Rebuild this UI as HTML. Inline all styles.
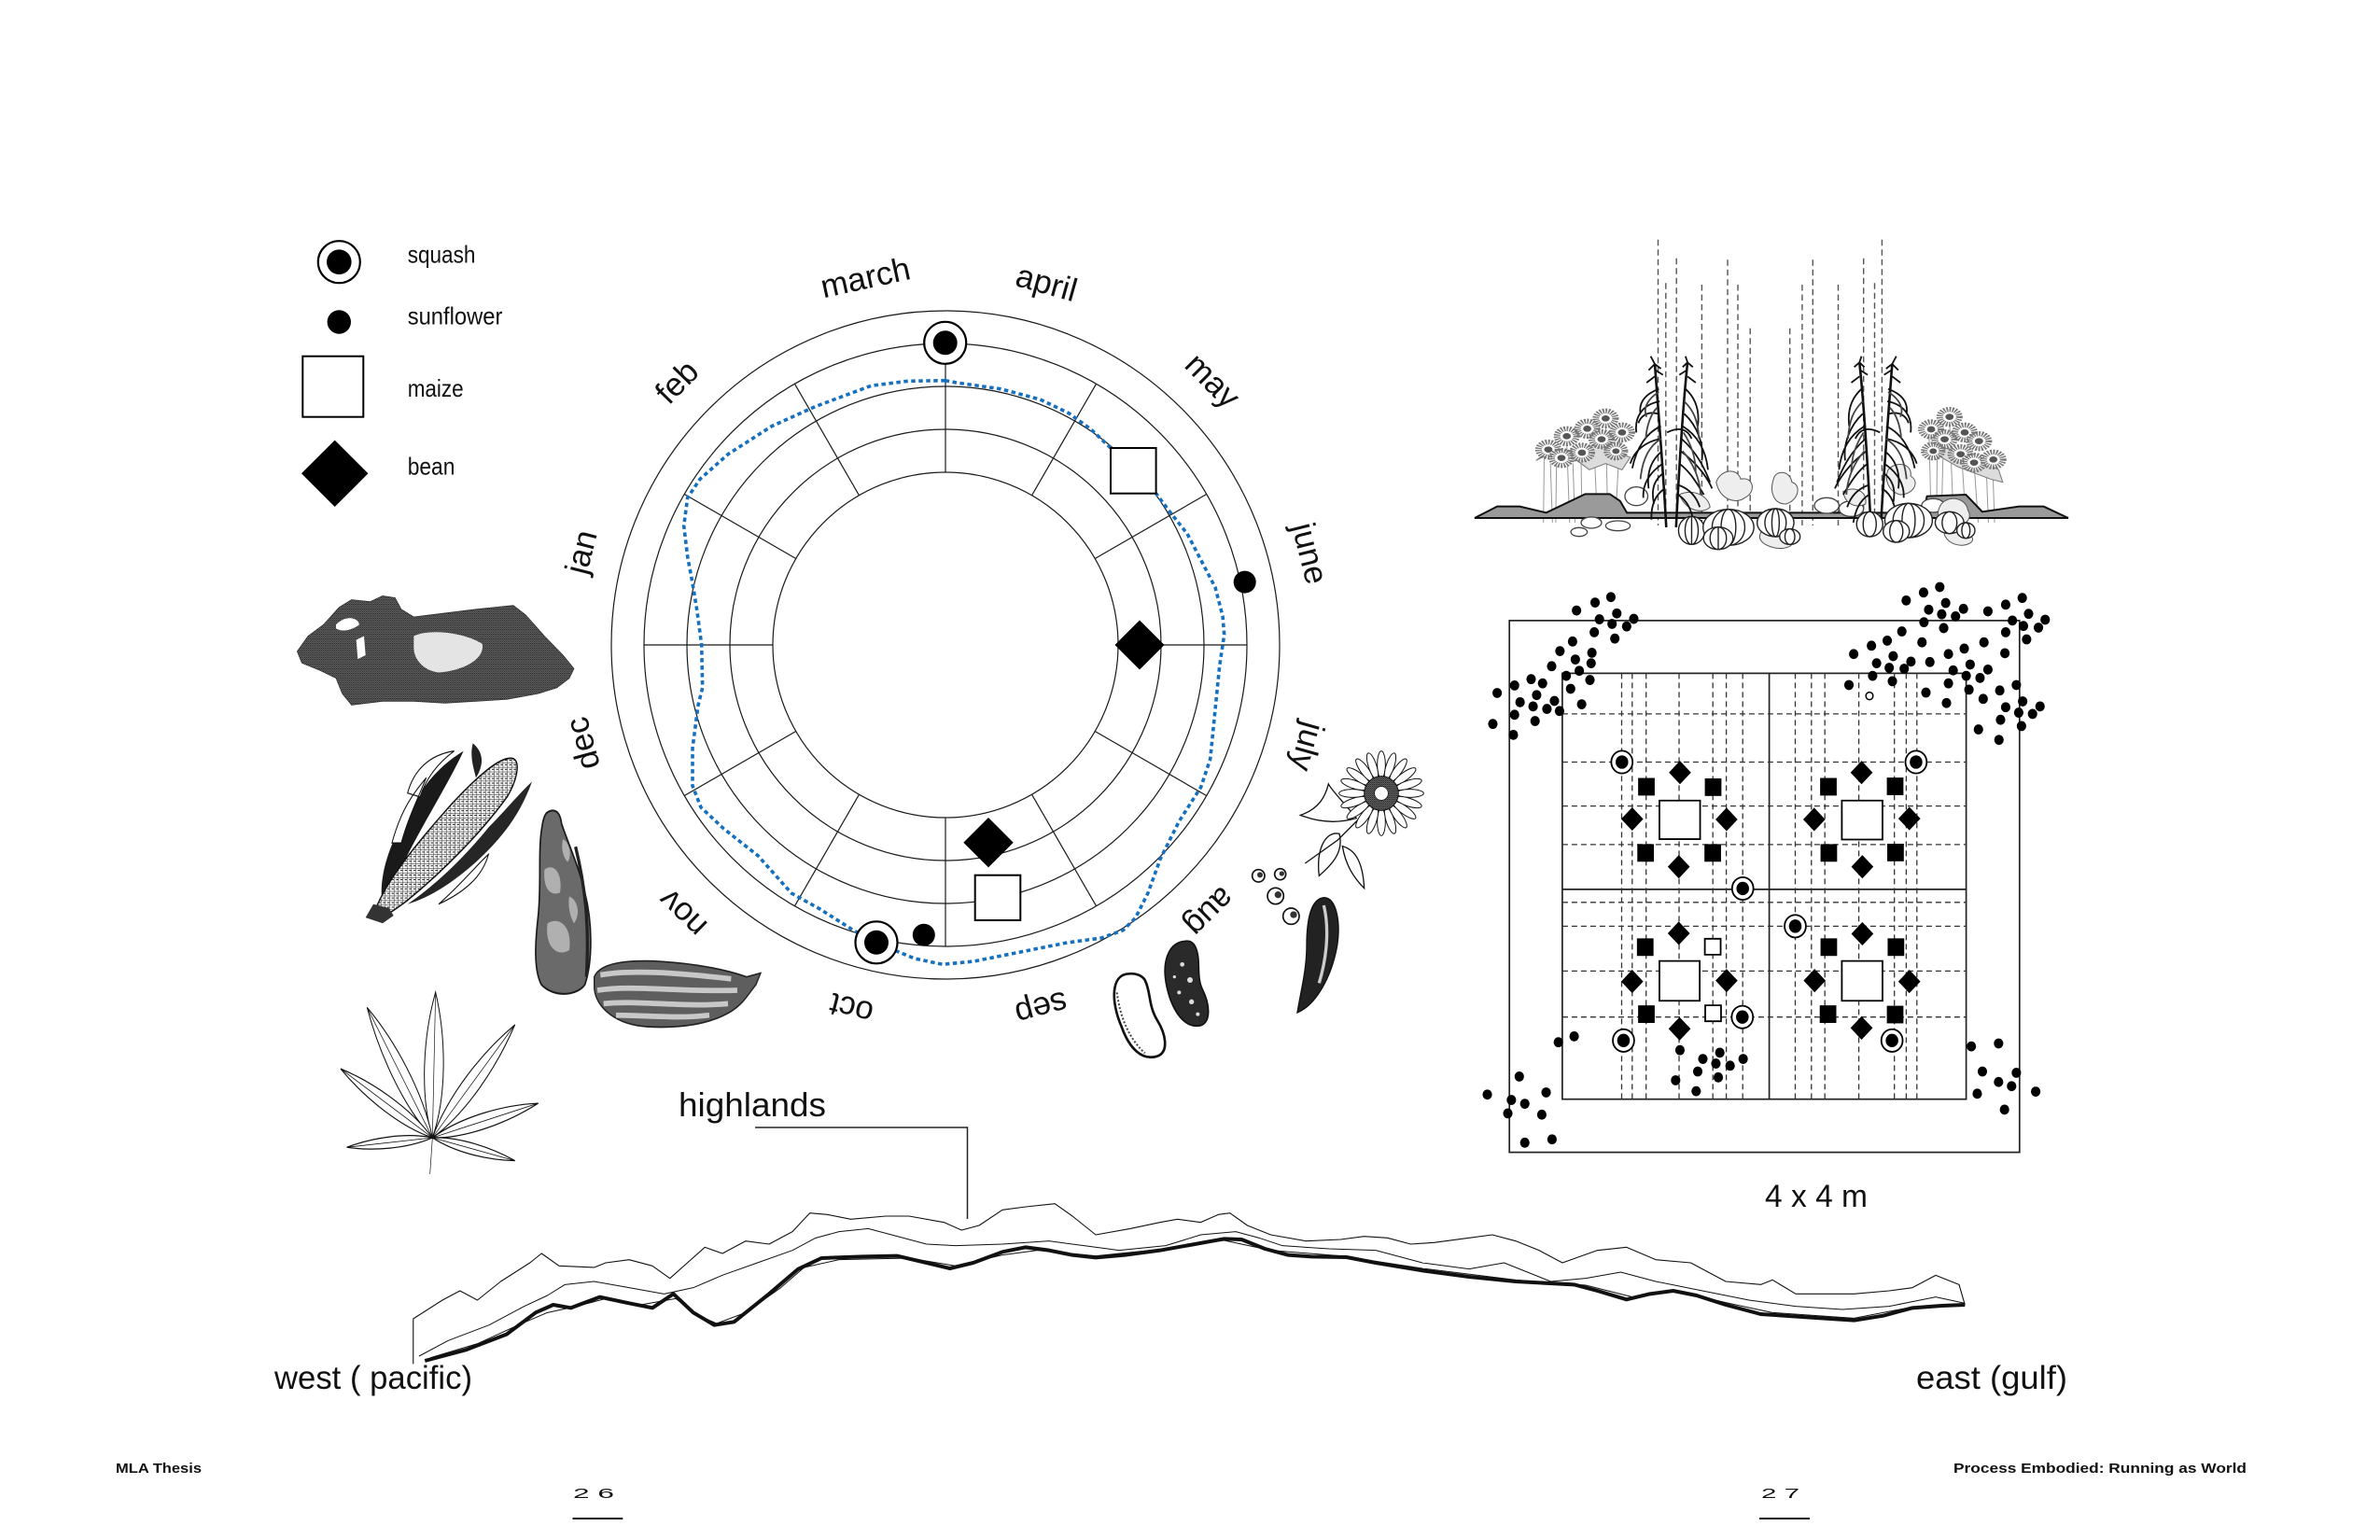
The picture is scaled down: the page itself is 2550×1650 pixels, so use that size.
<!DOCTYPE html>
<html><head><meta charset="utf-8">
<style>
html,body{margin:0;padding:0;background:#fff}
svg{display:block}
text{font-family:"Liberation Sans",Arial,sans-serif;fill:#111}
</style></head>
<body>
<svg xmlns="http://www.w3.org/2000/svg" width="2550" height="1650" viewBox="0 0 2550 1650">
<defs>
 <pattern id="kern" width="14" height="12" patternUnits="userSpaceOnUse"><rect width="14" height="12" fill="#f4f4f4"/><path d="M0,0H14M0,0V12M7,6H14" stroke="#222" stroke-width="2.5" fill="none"/></pattern>
 <pattern id="stip" width="6" height="6" patternUnits="userSpaceOnUse"><rect width="6" height="6" fill="#6e6e6e"/><circle cx="1.5" cy="1.5" r="1.6" fill="#111"/><circle cx="4.5" cy="4.3" r="1.3" fill="#1a1a1a"/><circle cx="4.5" cy="1" r="0.8" fill="#222"/></pattern>
</defs>
<rect width="2550" height="1650" fill="#fff"/>

<!-- ================= LEGEND ================= -->
<circle cx="363.3" cy="280.7" r="22.5" fill="#fff" stroke="#000" stroke-width="2.2"/>
<circle cx="363.3" cy="280.7" r="13.3" fill="#000"/>
<circle cx="363.3" cy="345" r="12.7" fill="#000"/>
<rect x="324.3" y="381.7" width="65" height="65" fill="#fff" stroke="#000" stroke-width="2"/>
<polygon points="358.7,471.6 394.4,507.3 358.7,543 323,507.3" fill="#000"/>
<text x="436.7" y="281.7" font-size="26" textLength="72.7" lengthAdjust="spacingAndGlyphs">squash</text>
<text x="436.7" y="347.3" font-size="26" textLength="101.7" lengthAdjust="spacingAndGlyphs">sunflower</text>
<text x="436.7" y="425" font-size="26" textLength="60" lengthAdjust="spacingAndGlyphs">maize</text>
<text x="436.7" y="508.3" font-size="26" textLength="50.7" lengthAdjust="spacingAndGlyphs">bean</text>

<!-- ================= CIRCLE ================= -->
<g fill="none" stroke="#1a1a1a" stroke-width="1.2">
 <circle cx="1013" cy="691" r="358"/>
 <circle cx="1013" cy="691" r="323"/>
 <circle cx="1013" cy="691" r="277"/>
 <circle cx="1013" cy="691" r="231"/>
 <circle cx="1013" cy="691" r="185"/>
 <line x1="1013" y1="506" x2="1013" y2="368"/>
 <line x1="1105.5" y1="530.8" x2="1174.5" y2="411.3"/>
 <line x1="1173.2" y1="598.5" x2="1292.7" y2="529.5"/>
 <line x1="1198" y1="691" x2="1336" y2="691"/>
 <line x1="1173.2" y1="783.5" x2="1292.7" y2="852.5"/>
 <line x1="1105.5" y1="851.2" x2="1174.5" y2="970.7"/>
 <line x1="1013" y1="876" x2="1013" y2="1014"/>
 <line x1="920.5" y1="851.2" x2="851.5" y2="970.7"/>
 <line x1="852.8" y1="783.5" x2="733.3" y2="852.5"/>
 <line x1="828" y1="691" x2="690" y2="691"/>
 <line x1="852.8" y1="598.5" x2="733.3" y2="529.5"/>
 <line x1="920.5" y1="530.8" x2="851.5" y2="411.3"/>
</g>
<path d="M1012.7,407.7 L1023.7,409.8 L1072,416.7 L1114.5,428 L1144.8,442.5 L1169,460 L1190,480 L1214,504 L1238.6,528.7 L1253.8,548.9 L1272,571.8 L1290,606.3 L1302,629.3 L1310,660 L1311.7,680 L1306.7,713.3 L1301.7,763.3 L1296.7,813.3 L1286.7,843.3 L1263.3,880 L1243.3,920 L1230,956.7 L1216.7,983.3 L1203.3,996.7 L1180,1005 L1143.3,1010 L1093.3,1020 L1043.3,1030 L1010,1033.3 L980,1027 L963,1020 L939,1010 L914.8,997 L878.5,974 L848,957 L812,916.7 L775.5,888 L751,865 L742,842 L742,801.7 L748,755.7 L752.7,736.7 L751.7,690.7 L746.7,653.3 L741.7,623.3 L736.7,596.7 L732.7,563.3 L736.7,533.3 L750,513.3 L780,486.7 L826.7,456.7 L873.3,435.7 L933.3,413.3 L973,408.3 Z" fill="none" stroke="#1570c0" stroke-width="3.6" stroke-dasharray="4.5 3.5" stroke-linejoin="round"/>

<!-- circle symbols -->
<circle cx="1012.7" cy="367.3" r="22.5" fill="#fff" stroke="#000" stroke-width="2.2"/>
<circle cx="1012.7" cy="367.3" r="13" fill="#000"/>
<rect x="1190" y="480" width="48.6" height="48.7" fill="#fff" stroke="#000" stroke-width="2"/>
<circle cx="1333.7" cy="623.6" r="12" fill="#000"/>
<polygon points="1221,664.5 1247.5,691 1221,717.5 1194.5,691" fill="#000"/>
<polygon points="1059,876 1085.7,902.7 1059,929.4 1032.3,902.7" fill="#000"/>
<rect x="1044.7" y="937.7" width="48.6" height="48.3" fill="#fff" stroke="#000" stroke-width="2"/>
<circle cx="939" cy="1009.8" r="22.5" fill="#fff" stroke="#000" stroke-width="2.2"/>
<circle cx="939" cy="1009.8" r="13" fill="#000"/>
<circle cx="989.8" cy="1001.7" r="12" fill="#000"/>

<!-- month labels -->
<g font-size="35" text-anchor="middle">
 <text x="1013" y="300" transform="rotate(-12.3 1013 691)">march</text>
 <text x="1013" y="300" transform="rotate(15.6 1013 691)">april</text>
 <text x="1013" y="300" transform="rotate(45.3 1013 691)">may</text>
 <text x="1013" y="300" transform="rotate(75.9 1013 691)">june</text>
 <text x="1013" y="300" transform="rotate(105.7 1013 691)">july</text>
 <text x="1013" y="300" transform="rotate(135.3 1013 691)">aug</text>
 <text x="1013" y="300" transform="rotate(165.2 1013 691)">sep</text>
 <text x="1013" y="300" transform="rotate(194.5 1013 691)">oct</text>
 <text x="1013" y="300" transform="rotate(224.4 1013 691)">nov</text>
 <text x="1013" y="300" transform="rotate(254.8 1013 691)">dec</text>
 <text x="1013" y="300" transform="rotate(284.3 1013 691)">jan</text>
 <text x="1013" y="300" transform="rotate(314.4 1013 691)">feb</text>
</g>

<!-- ================= LEFT ILLUSTRATIONS (zoom8 coords) ================= -->
<g transform="translate(310,620) scale(0.33333,0.41026)">
 <path d="M25,190 L60,150 L110,120 L160,75 L200,55 L260,60 L300,45 L340,50 L360,80 L400,100 L500,90 L600,80 L720,70 L760,95 L820,150 L880,200 L915,235 L900,260 L860,285 L800,300 L700,315 L600,320 L500,325 L400,320 L300,320 L200,330 L170,300 L150,260 L100,240 L40,220 Z" fill="url(#stip)" stroke="#333" stroke-width="2"/>
 <path d="M400,150 C450,130 560,140 620,170 C630,210 560,240 480,245 C430,240 400,210 400,180 Z" fill="#e4e4e4"/>
 <path d="M150,120 C180,95 220,100 225,120 C200,135 170,140 150,130 Z" fill="#fff"/>
 <path d="M215,160 L240,150 L245,200 L220,210 Z" fill="#fff"/>
 <path d="M300,860 C280,760 340,660 420,560 C470,500 520,470 560,450 C520,520 460,600 400,690 C360,750 330,810 300,860 Z" fill="#1a1a1a"/>
 <path d="M380,560 C400,500 450,460 530,450 C480,480 440,520 420,570 Z M330,690 C360,600 400,560 440,520 C410,580 380,630 360,690 Z" fill="#fff" stroke="#111" stroke-width="3"/>
 <path d="M270,880 C300,800 400,700 520,590 C600,520 680,460 720,470 C745,480 730,530 700,570 C620,660 500,760 380,840 C330,870 290,895 270,880 Z" fill="url(#kern)" stroke="#111" stroke-width="4"/>
 <path d="M380,850 C470,800 560,730 640,650 C700,600 740,560 780,530 C740,620 680,680 600,740 C530,790 460,830 380,850 Z" fill="#262626"/>
 <path d="M480,850 C550,800 600,750 640,720 C620,780 560,820 480,850 Z" fill="#fff" stroke="#111" stroke-width="3"/>
 <path d="M590,430 C620,450 630,480 600,520 C590,490 580,460 590,430 Z" fill="#222"/>
 <path d="M245,885 L270,850 L320,860 L335,880 L300,900 Z" fill="#333"/>
 <path d="M830,610 C850,600 870,605 875,640 C900,700 930,750 950,820 C975,900 975,1000 950,1060 C925,1090 850,1095 810,1060 C785,1020 790,950 800,880 C810,800 800,720 810,660 C815,630 820,615 830,610 Z" fill="#6a6a6a" stroke="#1a1a1a" stroke-width="5"/>
 <path d="M820,760 C850,740 880,770 870,820 C840,830 815,810 820,760 Z M830,900 C870,880 910,910 900,970 C860,990 820,960 830,900 Z M880,680 C900,690 910,720 895,740 C880,730 872,700 880,680 Z M900,830 C930,840 935,880 915,900 C900,880 895,850 900,830 Z" fill="#b0b0b0"/>
 <path d="M920,700 C950,800 965,900 955,1040" fill="none" stroke="#222" stroke-width="10"/>
 <path d="M980,1040 C1000,1000 1100,995 1200,1000 C1300,1005 1400,1020 1470,1040 L1515,1030 L1500,1060 C1480,1080 1460,1110 1420,1130 C1350,1165 1250,1175 1150,1170 C1050,1165 985,1120 980,1070 Z" fill="#5e5e5e" stroke="#222" stroke-width="4"/>
 <path d="M1000,1035 C1100,1020 1250,1030 1420,1045 M990,1075 C1100,1060 1250,1080 1440,1075 M1010,1110 C1120,1100 1250,1120 1410,1110 M1050,1140 C1150,1140 1250,1150 1350,1140" fill="none" stroke="#c8c8c8" stroke-width="14"/>
 <g fill="#fff" stroke="#111" stroke-width="3">
  <path d="M460,1460 C508,1347 503,1195 470,1080 C431,1193 418,1345 460,1460 Z"/>
  <path d="M460,1460 C429,1338 339,1206 250,1120 C288,1238 365,1378 460,1460 Z"/>
  <path d="M460,1460 C568,1397 668,1274 725,1165 C623,1234 511,1346 460,1460 Z"/>
  <path d="M460,1460 C387,1380 266,1314 165,1280 C241,1355 356,1432 460,1460 Z"/>
  <path d="M460,1460 C570,1462 704,1420 800,1370 C692,1374 554,1404 460,1460 Z"/>
  <path d="M460,1460 C375,1446 266,1460 185,1485 C269,1495 380,1489 460,1460 Z"/>
  <path d="M460,1460 C535,1500 642,1519 725,1520 C649,1485 544,1457 460,1460 Z"/>
  <path d="M460,1460 L452,1555 M460,1460 L470,1080 M460,1460 L250,1120 M460,1460 L725,1165 M460,1460 L165,1280 M460,1460 L800,1370 M460,1460 L185,1485 M460,1460 L725,1520" fill="none" stroke-width="2"/>
 </g>
</g>

<!-- ================= RIGHT-OF-CIRCLE ILLUSTRATIONS (zoom5 coords) ================= -->
<g transform="translate(1010,680) scale(0.33333)">
 <g fill="#fff" stroke="#111" stroke-width="4">
  <path d="M1330,590 C1290,540 1250,500 1240,480 C1230,520 1210,560 1150,580 C1200,600 1260,610 1330,590 Z"/>
  <path d="M1275,640 C1230,630 1200,690 1210,775 C1250,740 1290,700 1275,640 Z"/>
  <path d="M1285,680 C1320,690 1350,720 1355,815 C1320,780 1295,740 1285,680 Z"/>
  <path d="M1345,585 L1270,660 L1165,735" fill="none"/>
 </g>
 <g transform="translate(1410,510)" fill="#fff" stroke="#111" stroke-width="3">
  <ellipse cx="0" cy="-92" rx="13" ry="44" transform="rotate(0)"/><ellipse cx="0" cy="-92" rx="13" ry="44" transform="rotate(18)"/><ellipse cx="0" cy="-92" rx="13" ry="44" transform="rotate(36)"/><ellipse cx="0" cy="-92" rx="13" ry="44" transform="rotate(54)"/><ellipse cx="0" cy="-92" rx="13" ry="44" transform="rotate(72)"/><ellipse cx="0" cy="-92" rx="13" ry="44" transform="rotate(90)"/><ellipse cx="0" cy="-92" rx="13" ry="44" transform="rotate(108)"/><ellipse cx="0" cy="-92" rx="13" ry="44" transform="rotate(126)"/><ellipse cx="0" cy="-92" rx="13" ry="44" transform="rotate(144)"/><ellipse cx="0" cy="-92" rx="13" ry="44" transform="rotate(162)"/><ellipse cx="0" cy="-92" rx="13" ry="44" transform="rotate(180)"/><ellipse cx="0" cy="-92" rx="13" ry="44" transform="rotate(198)"/><ellipse cx="0" cy="-92" rx="13" ry="44" transform="rotate(216)"/><ellipse cx="0" cy="-92" rx="13" ry="44" transform="rotate(234)"/><ellipse cx="0" cy="-92" rx="13" ry="44" transform="rotate(252)"/><ellipse cx="0" cy="-92" rx="13" ry="44" transform="rotate(270)"/><ellipse cx="0" cy="-92" rx="13" ry="44" transform="rotate(288)"/><ellipse cx="0" cy="-92" rx="13" ry="44" transform="rotate(306)"/><ellipse cx="0" cy="-92" rx="13" ry="44" transform="rotate(324)"/><ellipse cx="0" cy="-92" rx="13" ry="44" transform="rotate(342)"/>
  <circle r="55" fill="url(#stip)"/>
  <circle r="22" fill="#fff" stroke-width="2"/>
 </g>
 <g fill="#fff" stroke="#111" stroke-width="5">
  <circle cx="1015" cy="775" r="20"/><circle cx="1085" cy="770" r="18"/><circle cx="1070" cy="840" r="26"/><circle cx="1120" cy="905" r="26"/>
 </g>
 <g fill="#333"><circle cx="1020" cy="772" r="9"/><circle cx="1090" cy="768" r="8"/><circle cx="1078" cy="836" r="11"/><circle cx="1128" cy="900" r="11"/></g>
 <path d="M600,1090 C540,1090 540,1180 575,1260 C600,1330 640,1370 690,1355 C730,1340 715,1280 690,1240 C660,1190 670,1150 650,1110 C640,1095 620,1088 600,1090 Z" fill="#fff" stroke="#111" stroke-width="8"/>
 <path d="M560,1150 C570,1230 600,1300 650,1345" fill="none" stroke="#444" stroke-width="6" stroke-dasharray="6 6"/>
 <path d="M780,985 C720,990 705,1060 720,1130 C735,1200 770,1260 820,1258 C865,1255 860,1190 835,1140 C815,1100 830,1050 815,1010 C808,990 795,983 780,985 Z" fill="#2a2a2a" stroke="#111" stroke-width="5"/>
 <g fill="#ddd"><circle cx="770" cy="1060" r="7"/><circle cx="795" cy="1110" r="9"/><circle cx="760" cy="1150" r="6"/><circle cx="800" cy="1180" r="8"/><circle cx="820" cy="1220" r="6"/><circle cx="745" cy="1100" r="5"/></g>
 <path d="M1225,845 C1180,850 1170,930 1170,1000 C1170,1080 1150,1150 1140,1215 C1200,1190 1250,1100 1268,1000 C1280,920 1265,845 1225,845 Z" fill="#222" stroke="#111" stroke-width="4"/>
 <path d="M1225,870 C1240,930 1240,1020 1210,1120" fill="none" stroke="#ccc" stroke-width="10"/>
</g>

<!-- ================= TOP-RIGHT PLANTS ================= -->
<g stroke="#555" stroke-width="1.4" stroke-dasharray="6.5 4">
 <line x1="1776.5" y1="256.7" x2="1776.5" y2="563"/>
 <line x1="1784.8" y1="303.3" x2="1784.8" y2="563"/>
 <line x1="1796.2" y1="276.7" x2="1796.2" y2="563"/>
 <line x1="1823.4" y1="305" x2="1823.4" y2="563"/>
 <line x1="1851" y1="278.3" x2="1851" y2="563"/>
 <line x1="1862" y1="305" x2="1862" y2="563"/>
 <line x1="1875.2" y1="351.7" x2="1875.2" y2="563"/>
 <line x1="1917.7" y1="351.7" x2="1917.7" y2="563"/>
 <line x1="1930.9" y1="305" x2="1930.9" y2="563"/>
 <line x1="1942.3" y1="278.3" x2="1942.3" y2="563"/>
 <line x1="1969.5" y1="305" x2="1969.5" y2="563"/>
 <line x1="1996.7" y1="276.7" x2="1996.7" y2="563"/>
 <line x1="2008.5" y1="303.3" x2="2008.5" y2="563"/>
 <line x1="2016.4" y1="256.7" x2="2016.4" y2="563"/>
</g>
<g transform="translate(1580,230) scale(0.4386,0.33333)">
 <g stroke="#999" stroke-width="1" fill="none">
  <path d="M170,760 L168,990 M200,780 L198,990 M225,730 L232,990 M260,780 L262,990 M290,700 L300,990 M320,670 L325,970 M355,710 L345,950 M185,800 L190,990 M240,800 L245,990" vector-effect="non-scaling-stroke"/>
  <path d="M1110,700 L1115,980 M1145,730 L1140,990 M1160,660 L1170,990 M1190,780 L1200,990 M1220,800 L1230,990 M1265,790 L1270,990 M1130,760 L1128,990 M1250,820 L1255,990" vector-effect="non-scaling-stroke"/>
 </g>
 <path d="M0,975 L55,938 L110,938 L175,958 L270,898 L330,898 L355,920 L372,958 L1095,958 L1105,905 L1200,900 L1240,955 L1330,938 L1390,938 L1450,975 Z" fill="#9a9a9a" stroke="#111" stroke-width="2" vector-effect="non-scaling-stroke"/>
 <path d="M150,790 L180,770 L210,800 L250,790 L280,820 L320,800 L360,820 L380,780 L340,760 L300,740 L260,750 L220,760 L180,760 Z" fill="#dcdcdc" stroke="#777" stroke-width="1" vector-effect="non-scaling-stroke"/>
 <path d="M1095,760 L1140,780 L1180,810 L1220,830 L1260,850 L1290,860 L1280,820 L1250,800 L1200,770 L1150,750 Z" fill="#dcdcdc" stroke="#777" stroke-width="1" vector-effect="non-scaling-stroke"/>
 <g fill="#fff" stroke="#777" stroke-width="16" stroke-dasharray="4 3">
  <circle cx="320" cy="655" r="24"/><circle cx="225" cy="712" r="24"/><circle cx="275" cy="688" r="24"/><circle cx="310" cy="722" r="24"/><circle cx="360" cy="700" r="24"/><circle cx="180" cy="755" r="24"/><circle cx="262" cy="765" r="24"/><circle cx="212" cy="782" r="24"/><circle cx="345" cy="760" r="22"/>
  <circle cx="1160" cy="650" r="24"/><circle cx="1115" cy="690" r="24"/><circle cx="1148" cy="722" r="24"/><circle cx="1197" cy="700" r="24"/><circle cx="1232" cy="728" r="24"/><circle cx="1187" cy="770" r="24"/><circle cx="1220" cy="797" r="24"/><circle cx="1267" cy="787" r="24"/><circle cx="1120" cy="760" r="22"/>
 </g>
 <g fill="#555">
  <circle cx="320" cy="655" r="10"/><circle cx="225" cy="712" r="10"/><circle cx="275" cy="688" r="10"/><circle cx="310" cy="722" r="10"/><circle cx="360" cy="700" r="10"/><circle cx="180" cy="755" r="10"/><circle cx="262" cy="765" r="10"/><circle cx="212" cy="782" r="10"/><circle cx="345" cy="760" r="9"/>
  <circle cx="1160" cy="650" r="10"/><circle cx="1115" cy="690" r="10"/><circle cx="1148" cy="722" r="10"/><circle cx="1197" cy="700" r="10"/><circle cx="1232" cy="728" r="10"/><circle cx="1187" cy="770" r="10"/><circle cx="1220" cy="797" r="10"/><circle cx="1267" cy="787" r="10"/><circle cx="1120" cy="760" r="9"/>
 </g>
 <g fill="#fff" stroke="#444" stroke-width="1.3">
  <ellipse cx="285" cy="990" rx="25" ry="18" vector-effect="non-scaling-stroke"/>
  <ellipse cx="255" cy="1020" rx="20" ry="14" vector-effect="non-scaling-stroke"/>
  <ellipse cx="350" cy="1000" rx="30" ry="16" vector-effect="non-scaling-stroke"/>
  <ellipse cx="395" cy="905" rx="28" ry="30" vector-effect="non-scaling-stroke"/>
  <ellipse cx="860" cy="935" rx="30" ry="25" vector-effect="non-scaling-stroke"/>
  <ellipse cx="920" cy="945" rx="30" ry="25" vector-effect="non-scaling-stroke"/>
  <ellipse cx="1120" cy="935" rx="28" ry="22" vector-effect="non-scaling-stroke"/>
 </g>
 <g fill="#eee" stroke="#555" stroke-width="1">
  <path d="M590,860 C600,820 640,810 650,850 C680,840 690,890 660,910 C640,930 600,920 590,860 Z" vector-effect="non-scaling-stroke"/>
  <path d="M730,850 C735,820 770,820 775,860 C800,870 790,920 760,930 C730,930 720,890 730,850 Z" vector-effect="non-scaling-stroke"/>
  <path d="M700,1020 C720,1000 760,1010 770,1040 C790,1060 760,1080 730,1070 C700,1060 690,1040 700,1020 Z" vector-effect="non-scaling-stroke"/>
  <path d="M1010,820 C1030,790 1070,800 1065,840 C1090,860 1070,900 1040,900 C1010,890 1000,850 1010,820 Z" vector-effect="non-scaling-stroke"/>
  <path d="M1140,930 C1160,900 1200,910 1205,950 C1220,980 1190,1010 1160,1000 C1130,990 1125,960 1140,930 Z" vector-effect="non-scaling-stroke"/>
  <path d="M1150,1000 C1170,990 1200,1000 1210,1030 C1230,1050 1200,1070 1175,1060 C1150,1050 1140,1020 1150,1000 Z" vector-effect="non-scaling-stroke"/>
  <path d="M500,900 C530,880 570,900 575,940 C560,960 520,960 500,900 Z" vector-effect="non-scaling-stroke"/>
  <path d="M900,890 C930,870 960,890 955,930 C930,945 905,930 900,890 Z" vector-effect="non-scaling-stroke"/>
 </g>
 <!-- corn (left) -->
 <g fill="none" stroke="#111" stroke-width="1.8">
  <path d="M468,1005 C462,850 450,650 440,480" stroke-width="2.6" vector-effect="non-scaling-stroke"/>
  <path d="M492,1005 C500,800 510,600 520,475" stroke-width="2.6" vector-effect="non-scaling-stroke"/>
  <path d="M450,560 C420,575 400,600 405,640 M452,600 C410,610 390,650 395,700 M455,680 C420,700 395,750 385,815 M458,760 C430,790 420,830 425,880 M462,830 C440,850 430,880 438,930 M515,560 C540,590 550,630 545,680 M512,640 C545,680 560,740 555,790 M505,720 C540,760 560,810 575,860 M500,800 C530,830 545,870 560,900 M470,700 C500,680 520,690 530,720 M448,640 C420,630 405,650 400,670 M500,870 C520,880 540,900 550,940 M455,720 C415,730 390,760 380,800 M460,800 C425,830 410,870 412,910 M508,680 C545,710 565,760 570,820 M503,760 C545,800 570,850 580,880 M465,880 C440,900 430,940 432,980 M497,900 C520,920 530,950 535,990" vector-effect="non-scaling-stroke"/>
  <path d="M450,570 C425,590 410,620 420,650 M456,720 C430,740 410,780 405,850 M512,600 C535,630 545,660 548,720 M508,760 C535,800 550,850 552,900 M446,620 C430,640 420,680 418,720 M510,700 C530,740 540,780 540,830" stroke="#444" vector-effect="non-scaling-stroke"/>
  <path d="M440,480 L425,500 M440,480 L455,495 M440,480 L430,455 M520,475 L508,490 M520,475 L533,490 M520,475 L515,455 M440,520 L420,540 M520,520 L540,540 M442,500 L460,515 M518,500 L500,515" vector-effect="non-scaling-stroke"/>
 </g>
 <g transform="translate(1460,0) scale(-1,1)">
  <g fill="none" stroke="#111" stroke-width="1.8">
   <path d="M468,1005 C462,850 450,650 440,480" stroke-width="2.6" vector-effect="non-scaling-stroke"/>
   <path d="M492,1005 C500,800 510,600 520,475" stroke-width="2.6" vector-effect="non-scaling-stroke"/>
   <path d="M450,560 C420,575 400,600 405,640 M452,600 C410,610 390,650 395,700 M455,680 C420,700 395,750 385,815 M458,760 C430,790 420,830 425,880 M462,830 C440,850 430,880 438,930 M515,560 C540,590 550,630 545,680 M512,640 C545,680 560,740 555,790 M505,720 C540,760 560,810 575,860 M500,800 C530,830 545,870 560,900 M470,700 C500,680 520,690 530,720 M448,640 C420,630 405,650 400,670 M500,870 C520,880 540,900 550,940 M455,720 C415,730 390,760 380,800 M460,800 C425,830 410,870 412,910 M508,680 C545,710 565,760 570,820 M503,760 C545,800 570,850 580,880 M465,880 C440,900 430,940 432,980 M497,900 C520,920 530,950 535,990" vector-effect="non-scaling-stroke"/>
   <path d="M450,570 C425,590 410,620 420,650 M456,720 C430,740 410,780 405,850 M512,600 C535,630 545,660 548,720 M508,760 C535,800 550,850 552,900 M446,620 C430,640 420,680 418,720 M510,700 C530,740 540,780 540,830" stroke="#444" vector-effect="non-scaling-stroke"/>
   <path d="M440,480 L425,500 M440,480 L455,495 M440,480 L430,455 M520,475 L508,490 M520,475 L533,490 M520,475 L515,455 M440,520 L420,540 M520,520 L540,540 M442,500 L460,515 M518,500 L500,515" vector-effect="non-scaling-stroke"/>
  </g>
 </g>
 <!-- pumpkins -->
 <g fill="#fff" stroke="#222" stroke-width="1.4">
  <g><ellipse cx="530" cy="1015" rx="32" ry="45" vector-effect="non-scaling-stroke"/><ellipse cx="530" cy="1015" rx="16" ry="45" vector-effect="non-scaling-stroke"/><line x1="530" y1="970" x2="530" y2="1060" vector-effect="non-scaling-stroke"/></g>
  <g><ellipse cx="620" cy="1005" rx="62" ry="58" vector-effect="non-scaling-stroke"/><ellipse cx="620" cy="1005" rx="40" ry="58" vector-effect="non-scaling-stroke"/><ellipse cx="620" cy="1005" rx="18" ry="58" vector-effect="non-scaling-stroke"/></g>
  <g><ellipse cx="595" cy="1040" rx="36" ry="36" vector-effect="non-scaling-stroke"/><ellipse cx="595" cy="1040" rx="20" ry="36" vector-effect="non-scaling-stroke"/><line x1="595" y1="1004" x2="595" y2="1076" vector-effect="non-scaling-stroke"/></g>
  <g><ellipse cx="735" cy="990" rx="45" ry="45" vector-effect="non-scaling-stroke"/><ellipse cx="735" cy="990" rx="26" ry="45" vector-effect="non-scaling-stroke"/><ellipse cx="735" cy="990" rx="9" ry="45" vector-effect="non-scaling-stroke"/></g>
  <g><ellipse cx="770" cy="1035" rx="25" ry="25" vector-effect="non-scaling-stroke"/><ellipse cx="770" cy="1035" rx="12" ry="25" vector-effect="non-scaling-stroke"/></g>
  <g><ellipse cx="965" cy="995" rx="32" ry="40" vector-effect="non-scaling-stroke"/><ellipse cx="965" cy="995" rx="16" ry="40" vector-effect="non-scaling-stroke"/></g>
  <g><ellipse cx="1060" cy="983" rx="58" ry="55" vector-effect="non-scaling-stroke"/><ellipse cx="1060" cy="983" rx="38" ry="55" vector-effect="non-scaling-stroke"/><ellipse cx="1060" cy="983" rx="16" ry="55" vector-effect="non-scaling-stroke"/></g>
  <g><ellipse cx="1030" cy="1018" rx="32" ry="35" vector-effect="non-scaling-stroke"/><ellipse cx="1030" cy="1018" rx="16" ry="35" vector-effect="non-scaling-stroke"/></g>
  <g><ellipse cx="1160" cy="990" rx="35" ry="35" vector-effect="non-scaling-stroke"/><ellipse cx="1160" cy="990" rx="18" ry="35" vector-effect="non-scaling-stroke"/></g>
  <g><ellipse cx="1200" cy="1015" rx="22" ry="25" vector-effect="non-scaling-stroke"/><ellipse cx="1200" cy="1015" rx="10" ry="25" vector-effect="non-scaling-stroke"/></g>
 </g>
</g>

<!-- ================= GRID 4x4 ================= -->
<g fill="none" stroke="#222" stroke-width="1.7">
 <rect x="1617.2" y="664.9" width="546.6" height="569.7"/>
 <rect x="1673.9" y="721.4" width="432.7" height="456.3"/>
 <line x1="1895.6" y1="721.4" x2="1895.6" y2="1177.7"/>
 <line x1="1673.9" y1="952.9" x2="2106.6" y2="952.9"/>
</g>
<g stroke="#333" stroke-width="1.3" stroke-dasharray="6 4">
 <line x1="1737.5" y1="721.4" x2="1737.5" y2="1177.7"/>
 <line x1="1748.8" y1="721.4" x2="1748.8" y2="1177.7"/>
 <line x1="1763.7" y1="721.4" x2="1763.7" y2="1177.7"/>
 <line x1="1799" y1="721.4" x2="1799" y2="1177.7"/>
 <line x1="1835.2" y1="721.4" x2="1835.2" y2="1177.7"/>
 <line x1="1849.6" y1="721.4" x2="1849.6" y2="1177.7"/>
 <line x1="1867.2" y1="721.4" x2="1867.2" y2="1177.7"/>
 <line x1="1923.5" y1="721.4" x2="1923.5" y2="1177.7"/>
 <line x1="1940.8" y1="721.4" x2="1940.8" y2="1177.7"/>
 <line x1="1955.2" y1="721.4" x2="1955.2" y2="1177.7"/>
 <line x1="1991.6" y1="721.4" x2="1991.6" y2="1177.7"/>
 <line x1="2029.7" y1="721.4" x2="2029.7" y2="1177.7"/>
 <line x1="2042.4" y1="721.4" x2="2042.4" y2="1177.7"/>
 <line x1="2053.8" y1="721.4" x2="2053.8" y2="1177.7"/>
 <line x1="1673.9" y1="764.9" x2="2106.6" y2="764.9"/>
 <line x1="1673.9" y1="816.5" x2="2106.6" y2="816.5"/>
 <line x1="1673.9" y1="863.6" x2="2106.6" y2="863.6"/>
 <line x1="1673.9" y1="904.9" x2="2106.6" y2="904.9"/>
 <line x1="1673.9" y1="966.8" x2="2106.6" y2="966.8"/>
 <line x1="1673.9" y1="992.4" x2="2106.6" y2="992.4"/>
 <line x1="1673.9" y1="1040.4" x2="2106.6" y2="1040.4"/>
 <line x1="1673.9" y1="1089.7" x2="2106.6" y2="1089.7"/>
</g>
<g transform="translate(1580,620) scale(0.42301,0.44863)">
 <g fill="#000">
  <circle cx="345" cy="44" r="12"/><circle cx="305" cy="57" r="12"/><circle cx="258" cy="76" r="12"/><circle cx="360" cy="83" r="12"/><circle cx="403" cy="96" r="12"/><circle cx="316" cy="97" r="12"/><circle cx="348" cy="108" r="12"/><circle cx="385" cy="114" r="12"/><circle cx="355" cy="143" r="12"/><circle cx="303" cy="128" r="12"/><circle cx="248" cy="150" r="12"/><circle cx="216" cy="173" r="12"/><circle cx="297" cy="177" r="12"/><circle cx="255" cy="193" r="12"/><circle cx="295" cy="202" r="12"/><circle cx="195" cy="209" r="12"/><circle cx="265" cy="220" r="12"/><circle cx="232" cy="232" r="12"/><circle cx="292" cy="242" r="12"/><circle cx="143" cy="240" r="12"/><circle cx="172" cy="250" r="12"/><circle cx="101" cy="255" r="12"/><circle cx="243" cy="263" r="12"/><circle cx="157" cy="278" r="12"/><circle cx="57" cy="273" r="12"/><circle cx="115" cy="295" r="12"/><circle cx="148" cy="305" r="12"/><circle cx="202" cy="292" r="12"/><circle cx="183" cy="311" r="12"/><circle cx="215" cy="316" r="12"/><circle cx="271" cy="300" r="12"/><circle cx="101" cy="325" r="12"/><circle cx="153" cy="340" r="12"/><circle cx="46" cy="347" r="12"/><circle cx="98" cy="373" r="12"/>
  <circle cx="1178" cy="20" r="12"/><circle cx="1137" cy="33" r="12"/><circle cx="1093" cy="52" r="12"/><circle cx="1193" cy="58" r="12"/><circle cx="1150" cy="74" r="12"/><circle cx="1238" cy="72" r="12"/><circle cx="1183" cy="85" r="12"/><circle cx="1218" cy="90" r="12"/><circle cx="1300" cy="78" r="12"/><circle cx="1345" cy="62" r="12"/><circle cx="1387" cy="46" r="12"/><circle cx="1403" cy="84" r="12"/><circle cx="1445" cy="98" r="12"/><circle cx="1428" cy="117" r="12"/><circle cx="1362" cy="100" r="12"/><circle cx="1390" cy="113" r="12"/><circle cx="1398" cy="145" r="12"/><circle cx="1138" cy="104" r="12"/><circle cx="1188" cy="118" r="12"/><circle cx="1082" cy="126" r="12"/><circle cx="1045" cy="148" r="12"/><circle cx="1133" cy="152" r="12"/><circle cx="1290" cy="152" r="12"/><circle cx="1345" cy="128" r="12"/><circle cx="1005" cy="160" r="12"/><circle cx="960" cy="180" r="12"/><circle cx="1060" cy="185" r="12"/><circle cx="1018" cy="202" r="12"/><circle cx="1105" cy="198" r="12"/><circle cx="1153" cy="199" r="12"/><circle cx="1200" cy="180" r="12"/><circle cx="1240" cy="167" r="12"/><circle cx="1343" cy="178" r="12"/><circle cx="1050" cy="213" r="12"/><circle cx="1088" cy="215" r="12"/><circle cx="1212" cy="219" r="12"/><circle cx="1255" cy="205" r="12"/><circle cx="1300" cy="217" r="12"/><circle cx="1245" cy="232" r="12"/><circle cx="1280" cy="237" r="12"/><circle cx="1372" cy="254" r="12"/><circle cx="1008" cy="232" r="12"/><circle cx="1058" cy="245" r="12"/><circle cx="948" cy="254" r="12"/><circle cx="1200" cy="250" r="12"/><circle cx="1252" cy="265" r="12"/><circle cx="1143" cy="272" r="12"/><circle cx="1330" cy="267" r="12"/><circle cx="1288" cy="287" r="12"/><circle cx="1388" cy="293" r="12"/><circle cx="1195" cy="297" r="12"/><circle cx="1345" cy="307" r="12"/><circle cx="1378" cy="320" r="12"/><circle cx="1413" cy="323" r="12"/><circle cx="1432" cy="305" r="12"/><circle cx="1332" cy="337" r="12"/><circle cx="1385" cy="352" r="12"/><circle cx="1276" cy="360" r="12"/><circle cx="1328" cy="385" r="12"/>
  <circle cx="212" cy="1107" r="12"/><circle cx="252" cy="1093" r="12"/><circle cx="113" cy="1189" r="12"/><circle cx="32" cy="1232" r="12"/><circle cx="181" cy="1227" r="12"/><circle cx="93" cy="1245" r="12"/><circle cx="127" cy="1254" r="12"/><circle cx="84" cy="1277" r="12"/><circle cx="170" cy="1280" r="12"/><circle cx="127" cy="1347" r="12"/><circle cx="196" cy="1339" r="12"/>
  <circle cx="520" cy="1126" r="12"/><circle cx="578" cy="1147" r="12"/><circle cx="621" cy="1132" r="12"/><circle cx="611" cy="1158" r="12"/><circle cx="647" cy="1163" r="12"/><circle cx="680" cy="1147" r="12"/><circle cx="565" cy="1177" r="12"/><circle cx="617" cy="1191" r="12"/><circle cx="509" cy="1198" r="12"/><circle cx="561" cy="1224" r="12"/>
  <circle cx="1258" cy="1117" r="12"/><circle cx="1327" cy="1110" r="12"/><circle cx="1286" cy="1177" r="12"/><circle cx="1372" cy="1180" r="12"/><circle cx="1327" cy="1202" r="12"/><circle cx="1360" cy="1212" r="12"/><circle cx="1421" cy="1225" r="12"/><circle cx="1273" cy="1230" r="12"/><circle cx="1342" cy="1268" r="12"/>
 </g>
 <circle cx="1000" cy="280" r="9" fill="#fff" stroke="#000" stroke-width="1.5" vector-effect="non-scaling-stroke"/>
 <g fill="#fff" stroke="#000" stroke-width="1.8">
  <rect x="468" y="530" width="103" height="92" vector-effect="non-scaling-stroke"/>
  <rect x="930" y="530" width="103" height="93" vector-effect="non-scaling-stroke"/>
  <rect x="468" y="913" width="102" height="95" vector-effect="non-scaling-stroke"/>
  <rect x="930" y="913" width="103" height="95" vector-effect="non-scaling-stroke"/>
  <rect x="583" y="860" width="40" height="38" vector-effect="non-scaling-stroke"/>
  <rect x="584" y="1019" width="40" height="38" vector-effect="non-scaling-stroke"/>
 </g>
 <g fill="#000">
  <rect x="414" y="476" width="42" height="42"/><rect x="583" y="477" width="42" height="42"/><rect x="412" y="634" width="42" height="42"/><rect x="582" y="634" width="42" height="42"/>
  <rect x="875" y="476" width="42" height="42"/><rect x="1044" y="475" width="42" height="42"/><rect x="876" y="634" width="42" height="42"/><rect x="1045" y="633" width="42" height="42"/>
  <rect x="411" y="859" width="42" height="42"/><rect x="414" y="1019" width="42" height="42"/>
  <rect x="876" y="859" width="42" height="42"/><rect x="1046" y="859" width="42" height="42"/><rect x="874" y="1019" width="42" height="42"/><rect x="1044" y="1020" width="42" height="42"/>
 </g>
 <g fill="#000">
  <polygon points="520,435 548,463 520,491 492,463"/><polygon points="399,546 427,574 399,602 371,574"/><polygon points="638,547 666,575 638,603 610,575"/><polygon points="517,660 545,688 517,716 489,688"/>
  <polygon points="980,435 1008,463 980,491 952,463"/><polygon points="860,547 888,575 860,603 832,575"/><polygon points="1101,545 1129,573 1101,601 1073,573"/><polygon points="982,660 1010,688 982,716 954,688"/>
  <polygon points="517,819 545,847 517,875 489,847"/><polygon points="399,934 427,962 399,990 371,962"/><polygon points="638,932 666,960 638,988 610,960"/><polygon points="519,1047 547,1075 519,1103 491,1075"/>
  <polygon points="982,820 1010,848 982,876 954,848"/><polygon points="861,932 889,960 861,988 833,960"/><polygon points="1101,934 1129,962 1101,990 1073,962"/><polygon points="980,1045 1008,1073 980,1101 952,1073"/>
 </g>
 <g fill="#fff" stroke="#000" stroke-width="1.8">
  <circle cx="373" cy="438" r="27" vector-effect="non-scaling-stroke"/><circle cx="679" cy="740" r="27" vector-effect="non-scaling-stroke"/><circle cx="1118" cy="438" r="27" vector-effect="non-scaling-stroke"/>
  <circle cx="678" cy="1047" r="27" vector-effect="non-scaling-stroke"/><circle cx="377" cy="1103" r="27" vector-effect="non-scaling-stroke"/><circle cx="812" cy="830" r="27" vector-effect="non-scaling-stroke"/><circle cx="1057" cy="1103" r="27" vector-effect="non-scaling-stroke"/>
 </g>
 <g fill="#000">
  <circle cx="373" cy="438" r="16"/><circle cx="679" cy="740" r="16"/><circle cx="1118" cy="438" r="16"/>
  <circle cx="678" cy="1047" r="16"/><circle cx="377" cy="1103" r="16"/><circle cx="812" cy="830" r="16"/><circle cx="1057" cy="1103" r="16"/>
 </g>
</g>
<text x="1891" y="1293" font-size="34" textLength="110" lengthAdjust="spacingAndGlyphs">4 x 4 m</text>

<!-- ================= PROFILE ================= -->
<g transform="translate(274,1153) scale(1.25,0.33333)" fill="none" stroke="#111" stroke-linejoin="round">
 <path d="M135,925 L135,780 L160,720 L175,690 L190,720 L210,660 L235,600 L245,570 L260,610 L290,615 L300,600 L320,590 L340,610 L355,650 L370,600 L385,550 L400,570 L420,530 L440,540 L460,500 L475,440 L490,445 L510,460 L540,450 L560,450 L590,470 L605,495 L620,480 L640,430 L660,420 L685,410 L700,450 L720,510 L750,490 L775,470 L790,460 L810,470 L825,445 L835,440 L850,480 L870,510 L900,530 L930,525 L950,515 L970,520 L990,540 L1010,535 L1040,520 L1060,510 L1080,530 L1100,560 L1120,600 L1150,560 L1175,550 L1200,590 L1230,600 L1260,660 L1290,670 L1300,655 L1320,700 L1340,700 L1370,700 L1400,690 L1420,680 L1440,640 L1460,670 L1465,735" stroke-width="1.1" vector-effect="non-scaling-stroke"/>
 <path d="M140,900 L165,850 L200,800 L230,740 L250,705 L265,670 L290,660 L320,680 L350,700 L375,680 L400,640 L430,600 L460,560 L480,520 L500,500 L525,490 L545,510 L575,540 L600,545 L640,540 L680,530 L710,545 L740,560 L780,545 L810,510 L840,500 L860,520 L880,545 L920,555 L960,560 L1000,600 L1040,620 L1070,600 L1090,630 L1110,660 L1140,650 L1170,630 L1200,660 L1240,690 L1280,720 L1320,740 L1360,750 L1400,740 L1440,710 L1465,730" stroke-width="1" vector-effect="non-scaling-stroke"/>
 <path d="M150,905 L190,860 L225,800 L250,760 L275,740 L300,715 L330,735 L360,715 L380,770 L395,795 L420,760 L450,680 L470,615 L500,590 L560,585 L600,610 L640,575 L670,560 L720,578 L780,555 L830,528 L870,560 L930,578 L1000,618 L1080,655 L1140,672 L1180,710 L1215,688 L1260,728 L1300,760 L1370,778 L1420,742 L1465,732" stroke-width="1" vector-effect="non-scaling-stroke"/>
 <path d="M145,915 L180,880 L215,830 L240,760 L255,735 L270,745 L295,710 L320,730 L340,745 L358,700 L375,760 L393,800 L410,790 L440,700 L465,620 L485,585 L520,580 L550,578 L575,600 L595,618 L615,600 L640,565 L660,550 L680,560 L700,575 L720,583 L745,575 L775,560 L805,540 L830,523 L845,525 L865,555 L885,575 L905,580 L935,582 L960,600 L1000,625 L1040,645 L1080,660 L1130,670 L1150,690 L1175,718 L1195,700 L1215,690 L1235,705 L1260,735 L1290,765 L1330,775 L1370,785 L1395,770 L1420,745 L1445,738 L1465,735" stroke-width="4" vector-effect="non-scaling-stroke"/>
</g>
<path d="M809,1208 L1036.5,1208 L1036.5,1306" fill="none" stroke="#222" stroke-width="1.5"/>
<text x="727" y="1196" font-size="36" textLength="158" lengthAdjust="spacingAndGlyphs">highlands</text>
<text x="294" y="1488" font-size="35" textLength="212" lengthAdjust="spacingAndGlyphs">west ( pacific)</text>
<text x="2053" y="1488" font-size="35" textLength="162" lengthAdjust="spacingAndGlyphs">east (gulf)</text>

<!-- ================= FOOTER ================= -->
<text x="124" y="1578" font-size="15" font-weight="bold" textLength="92" lengthAdjust="spacingAndGlyphs">MLA Thesis</text>
<text x="2093" y="1578" font-size="15" font-weight="bold" textLength="314" lengthAdjust="spacingAndGlyphs">Process Embodied: Running as World</text>
<text x="614" y="1605" font-size="15" textLength="44" lengthAdjust="spacingAndGlyphs">2 6</text>
<line x1="613.5" y1="1627" x2="667.3" y2="1627" stroke="#111" stroke-width="2"/>
<text x="1887" y="1605" font-size="15" textLength="41" lengthAdjust="spacingAndGlyphs">2 7</text>
<line x1="1885" y1="1627" x2="1939" y2="1627" stroke="#111" stroke-width="2"/>
</svg>
</body></html>
